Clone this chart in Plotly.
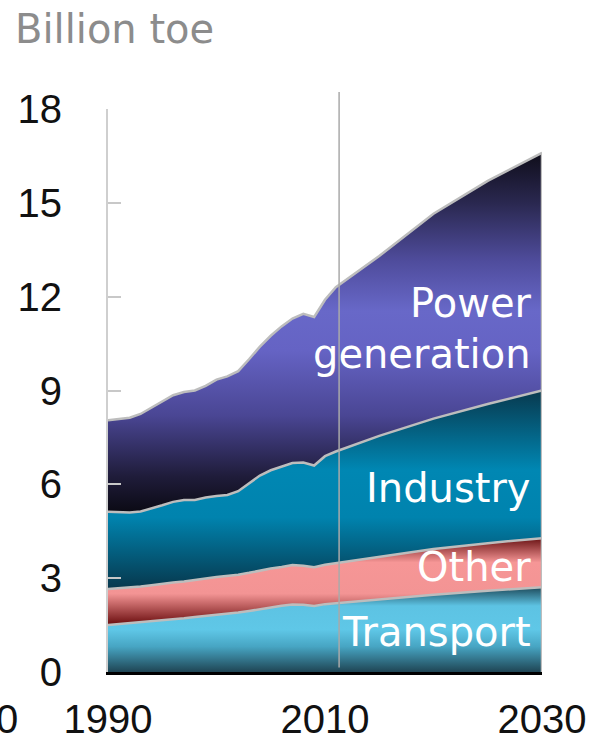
import numpy as np
import plotly.graph_objects as go

# ---- data (billion toe) ----
years = [1990, 1991, 1992, 1993, 1994, 1995, 1996, 1997, 1998, 1999, 2000,
         2001, 2002, 2003, 2004, 2005, 2006, 2007, 2008, 2009, 2010, 2011,
         2015, 2020, 2025, 2030]

transport = [1.50, 1.53, 1.55, 1.58, 1.62, 1.66, 1.69, 1.72, 1.76, 1.79, 1.83,
             1.86, 1.90, 1.95, 2.01, 2.07, 2.12, 2.16, 2.15, 2.11, 2.17, 2.20,
             2.33, 2.47, 2.60, 2.71]
other = [1.15, 1.14, 1.15, 1.15, 1.15, 1.16, 1.17, 1.17, 1.19, 1.20, 1.21,
         1.21, 1.21, 1.22, 1.24, 1.24, 1.24, 1.26, 1.25, 1.24, 1.26, 1.28,
         1.37, 1.46, 1.52, 1.57]
industry = [2.47, 2.44, 2.40, 2.40, 2.45, 2.51, 2.58, 2.61, 2.55, 2.59, 2.59,
            2.59, 2.67, 2.86, 3.03, 3.14, 3.21, 3.26, 3.30, 3.25, 3.47, 3.57,
            3.85, 4.17, 4.45, 4.72]
power = [2.93, 2.97, 3.03, 3.12, 3.23, 3.32, 3.41, 3.45, 3.50, 3.57, 3.72,
         3.79, 3.84, 3.97, 4.12, 4.30, 4.48, 4.62, 4.75, 4.75, 5.00, 5.25,
         5.75, 6.55, 7.13, 7.60]

series_names = ["Transport", "Other", "Industry", "Power generation"]
y_ticks = [0, 3, 6, 9, 12, 15, 18]
x_ticks = [1990, 2010, 2030]
base_year_line = 2011.3

# ---- styles ----
FONT = "Liberation Sans"
LABEL_FONT = "DejaVu Sans"
colorscales = {
    "Transport": [[0, "#1f4554"], [0.3, "#47a5c3"], [0.5, "#5fc7e7"],
                  [0.78, "#5dc3e3"], [1, "#1e4a5b"]],
    "Other": [[0, "#680b0c"], [0.36, "#f39494"], [0.72, "#f69696"],
              [1, "#6a1314"]],
    "Industry": [[0, "#07374c"], [0.36, "#0083ae"], [0.6, "#0087b3"],
                 [1, "#08394e"]],
    "Power generation": [[0, "#0b0a14"], [0.1, "#1f1c3a"], [0.27, "#4a4694"],
                         [0.45, "#6563c4"], [0.56, "#6868c8"], [0.7, "#4f4c9c"],
                         [0.86, "#2a2850"], [1, "#0f0d1a"]],
}
LINE_COL = "#bdbdbd"

values = [transport, other, industry, power]
cum = np.cumsum(np.array(values), axis=0)
lower = np.vstack([np.zeros(len(years)), cum[:-1]])

fig = go.Figure()
for i, name in enumerate(series_names):
    fig.add_trace(go.Scatter(
        x=years, y=cum[i], mode="lines", name=name,
        line=dict(color=LINE_COL, width=2.5),
        fill="tozeroy" if i == 0 else "tonexty",
        fillgradient=dict(type="vertical", colorscale=colorscales[name],
                          start=float(lower[i].min()), stop=float(cum[i].max())),
        showlegend=False, hoverinfo="skip",
    ))

# right edge outline of the stacked areas
fig.add_shape(type="line", xref="x", yref="y", x0=years[-1], x1=years[-1],
              y0=0, y1=float(cum[-1][-1]), line=dict(color=LINE_COL, width=2.5))
# base-year divider
fig.add_shape(type="line", xref="x", yref="paper", x0=base_year_line,
              x1=base_year_line, y0=0.008, y1=1.03,
              line=dict(color="#a9a9a9", width=1.5))

# in-chart labels
LABEL_X = 2029.2
label_pos = [("Power", 11.8), ("generation", 10.17), ("Industry", 5.88),
             ("Other", 3.36), ("Transport", 1.28)]
for txt, yv in label_pos:
    fig.add_annotation(x=LABEL_X, y=yv, xref="x", yref="y", text=txt,
                       showarrow=False, xanchor="right", yanchor="middle",
                       font=dict(family=LABEL_FONT, size=40, color="white"))

# unit title
fig.add_annotation(x=-0.218, y=1.142, xref="paper", yref="paper",
                   text="Billion toe", showarrow=False, xanchor="left",
                   yanchor="middle",
                   font=dict(family=LABEL_FONT, size=40, color="#8c8c8c"))
# fragment of neighbouring panel's axis label
fig.add_annotation(x=-0.2627, y=-0.083, xref="paper", yref="paper",
                   text="0", showarrow=False, xanchor="left",
                   yanchor="middle", font=dict(family=FONT, size=40, color="#111111"))

fig.update_layout(
    template="none",
    width=590, height=747,
    margin=dict(l=108, r=48, t=109, b=75, autoexpand=False),
    paper_bgcolor="white", plot_bgcolor="white",
    font=dict(family=FONT, size=40, color="#111111"),
    xaxis=dict(range=[1990, 2030], tickvals=x_ticks, ticks="",
               showgrid=False, zeroline=False, showline=True, automargin=False,
               linecolor="#000000", linewidth=3, ticklabelstandoff=10,
               tickfont=dict(family=FONT, size=40, color="#111111")),
    yaxis=dict(range=[0, 18], tickvals=y_ticks, ticks="inside", ticklen=13,
               tickwidth=2, tickcolor="#c8c8c8", showgrid=False, automargin=False,
               zeroline=False, showline=True, linecolor="#cfcfcf",
               linewidth=2, ticklabelstandoff=36,
               tickfont=dict(family=FONT, size=40, color="#111111")),
)

fig.write_html("out.html", config={"displayModeBar": False},
               post_script="document.body.style.margin='0';"
                           "document.body.style.overflow='hidden';")
